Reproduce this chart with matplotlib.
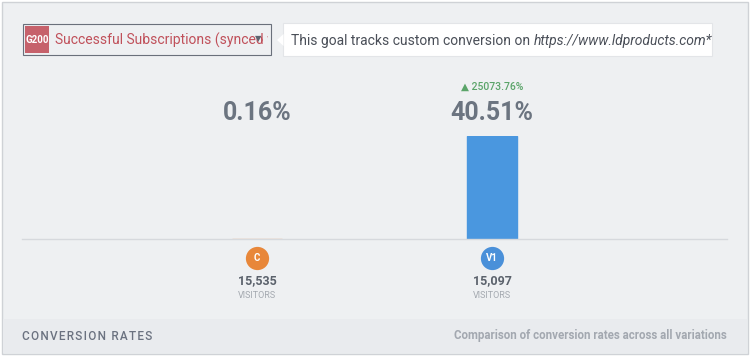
#!/usr/bin/env python3
# conversion rates card - bar per variation
import matplotlib
matplotlib.use("Agg")
import matplotlib.pyplot as plt
from matplotlib.patches import Rectangle, Polygon
import matplotlib.transforms as mtransforms

W, H = 750, 358

# data
variations = ["C", "V1"]
rates = [0.16, 40.51]            # conversion rate, %
visitors = ["15,535", "15,097"]
lift = [None, "25073.76%"]
var_colors = ["#e8873a", "#4a90d9"]
bar_colors = ["#e9b68a", "#4a97df"]

goal_tag = "G200"
goal_name = "Successful Subscriptions (synced w"
goal_note = "This goal tracks custom conversion on "
goal_url = "https://www.ldproducts.com*"
footer_left = "CONVERSION RATES"
footer_right = "Comparison of conversion rates across all variations"

plt.rcParams["font.family"] = ["Roboto", "DejaVu Sans"]

fig = plt.figure(figsize=(W / 100, H / 100), dpi=100)
fig.patch.set_facecolor("#ffffff")


def fx(x):
    return x / W


def fy(y):
    return 1 - y / H


def frect(x0, y0, x1, y1, **kw):
    kw.setdefault("zorder", -2)
    fig.patches.append(Rectangle((fx(x0), fy(y1)), fx(x1) - fx(x0), fy(y0) - fy(y1),
                                 transform=fig.transFigure, **kw))


# card + footer band
frect(1.5, 2, 748, 354, facecolor="#eef0f2", edgecolor="#cfd2d6", linewidth=1.0, zorder=-3)
frect(2.5, 319, 747, 353, facecolor="#e9ebee", edgecolor="none")

# goal dropdown
frect(23, 24, 271, 55, facecolor="#eef0f2", edgecolor="#6a707b", linewidth=0.8)
frect(25, 26, 49, 53, facecolor="#c6616b", edgecolor="none")
fig.text(fx(37), fy(40), goal_tag, color="white", fontsize=7, fontweight="bold",
         ha="center", va="center")
t = fig.text(fx(55), fy(40.5), goal_name, color="#c0505a", fontsize=10, ha="left", va="center")
t.set_clip_path(Rectangle((fx(50), fy(55)), fx(268) - fx(50), fy(24) - fy(55),
                          transform=fig.transFigure))
fig.text(fx(258), fy(39), "\u25bc", color="#5d6470", fontsize=6, ha="center", va="center")

# tooltip
frect(283, 23, 712, 56, facecolor="#ffffff", edgecolor="#e3e5e8", linewidth=0.8)
fig.patches.append(Polygon([(fx(283.5), fy(34)), (fx(277), fy(40)), (fx(283.5), fy(46))],
                           closed=True, facecolor="#ffffff", edgecolor="none",
                           transform=fig.transFigure, zorder=-1))
note = fig.text(fx(291), fy(40.5), goal_note, color="#4a4f58", fontsize=10, ha="left", va="center")
r = fig.canvas.get_renderer()
bb = note.get_window_extent(renderer=r)
fig.text(bb.x1 / W, fy(40.5), goal_url, color="#4a4f58", fontsize=10, style="italic",
         ha="left", va="center")

# bar chart axes
base_y, top_y = 239, 136
ax = fig.add_axes([fx(22), fy(base_y), fx(727) - fx(22), (base_y - top_y) / H])
ax.set_facecolor("none")
x = list(range(len(variations)))
ax.bar(x, rates, width=50 / 235, color=bar_colors, edgecolor=bar_colors, linewidth=1.0)
ax.set_xlim(-1, 2)
ax.set_ylim(0, max(rates))
for s in ["top", "left", "right"]:
    ax.spines[s].set_visible(False)
ax.spines["bottom"].set_color("#d6d9dd")
ax.spines["bottom"].set_linewidth(1.0)
ax.set_xticks([])
ax.set_yticks([])

tr = mtransforms.blended_transform_factory(ax.transData, fig.transFigure)
for i, v in enumerate(variations):
    ax.text(i, fy(113), f"{rates[i]:.2f}%", transform=tr, ha="center", va="center",
            fontsize=18, fontweight="bold", color="#6b7480")
    if lift[i]:
        ax.text(i, fy(87), "\u25b2 " + lift[i], transform=tr, ha="center", va="center",
                fontsize=7.5, color="#5aa469", fontweight="medium")
    ax.scatter([i], [fy(258)], transform=tr, s=280, color=var_colors[i], clip_on=False,
               zorder=5, linewidths=0)
    ax.text(i, fy(258), v, transform=tr, ha="center", va="center", fontsize=7,
            fontweight="bold", color="white", zorder=6)
    ax.text(i, fy(281), visitors[i], transform=tr, ha="center", va="center",
            fontsize=9, fontweight="bold", color="#5b626c")
    ax.text(i, fy(296), "VISITORS", transform=tr, ha="center", va="center",
            fontsize=6.5, color="#a4a9b0")

# footer
fig.text(fx(22), fy(336), "\u200a".join(footer_left), color="#6b7280", fontsize=8.5,
         ha="left", va="center", fontweight="medium")
fig.text(fx(727), fy(336), footer_right, color="#a3a8b0", fontsize=8.3, ha="right",
         va="center", fontweight="bold")

fig.savefig("out.png", dpi=100, facecolor=fig.get_facecolor())
